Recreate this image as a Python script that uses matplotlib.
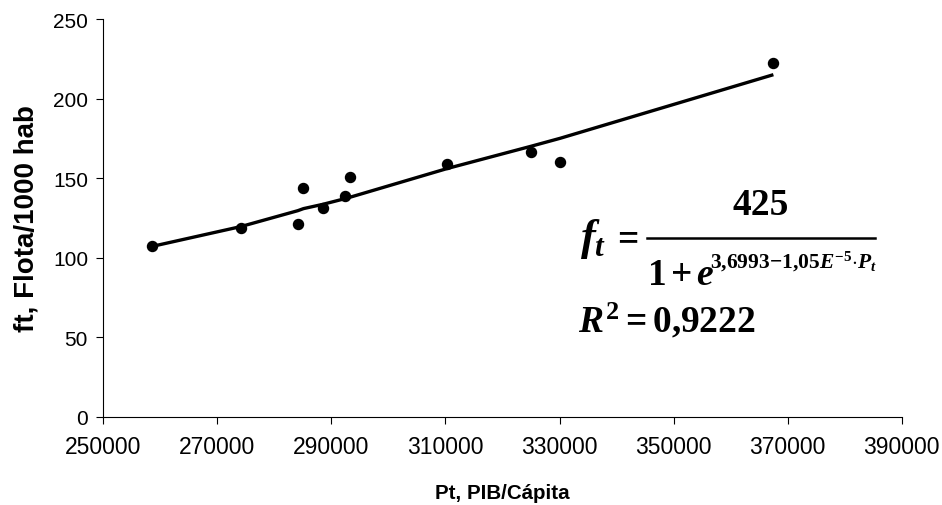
import matplotlib
matplotlib.use("Agg")
import matplotlib.pyplot as plt
from matplotlib.lines import Line2D

plt.rcParams['font.family'] = ['Liberation Sans', 'DejaVu Sans']
plt.rcParams['mathtext.fontset'] = 'custom'
plt.rcParams['mathtext.rm'] = 'Liberation Serif:bold'
plt.rcParams['mathtext.it'] = 'Liberation Serif:bold:italic'
plt.rcParams['mathtext.bf'] = 'Liberation Serif:bold'

# observed data
pib = [258500, 274100, 284100, 285100, 288500, 292300, 293300, 310300, 325000, 330100, 367500]
flota = [107.1, 118.4, 121.3, 143.9, 131.0, 138.5, 150.8, 159.0, 166.6, 160.1, 222.1]

# fitted curve
fit_pib = [258500, 274100, 284100, 285100, 288500, 292300, 293300, 310300, 325000, 330100, 367500]
fit_flota = [107.0, 119.5, 129.5, 130.8, 133.5, 137.0, 138.0, 156.0, 170.0, 175.0, 215.0]

x_ticks = [250000, 270000, 290000, 310000, 330000, 350000, 370000, 390000]
y_ticks = [0, 50, 100, 150, 200, 250]

W, H = 942, 506
fig = plt.figure(figsize=(W / 100, H / 100), dpi=100)
ax = fig.add_axes([103.3 / W, 1 - 417.7 / H, (901.7 - 103.3) / W, (417.7 - 20) / H])

ax.plot(fit_pib, fit_flota, color='black', lw=2.4, solid_capstyle='butt', zorder=2)
ax.scatter(pib, flota, s=52, color='black', zorder=3)

ax.set_xlim(250000, 390000)
ax.set_ylim(0, 250)
ax.set_xticks(x_ticks)
ax.set_yticks(y_ticks)
ax.tick_params(direction='out', length=5, width=0.8, pad=6)
ax.tick_params(axis='x', labelsize=16.5, pad=8)
ax.tick_params(axis='y', labelsize=15)
for s in ['top', 'right']:
    ax.spines[s].set_visible(False)
for s in ['left', 'bottom']:
    ax.spines[s].set_linewidth(0.8)

ax.set_xlabel('Pt, PIB/Cápita', fontsize=14.8, fontweight='bold', labelpad=18)
ax.set_ylabel('ft, Flota/1000 hab', fontsize=20, fontweight='bold', labelpad=10)

# equation, built from pieces so every part keeps its own size
eq_size = 27
def px(x, y):
    return x / W, 1 - y / H

fig.text(*px(580, 250), r'$f_t$', fontsize=32, ha='left', va='baseline')
fig.text(*px(612, 248), r'$=$', fontsize=eq_size, ha='left', va='baseline')
fig.text(*px(761, 215), '425', fontsize=eq_size, family='Liberation Serif',
         fontweight='bold', ha='center', va='baseline')
fig.add_artist(Line2D([647 / W, 875 / W], [1 - 239 / H, 1 - 239 / H],
                      color='black', lw=1.8, transform=fig.transFigure))
fig.text(*px(647, 285), r'$1\,{+}\,e$', fontsize=eq_size, ha='left', va='baseline')
fig.text(*px(710, 268), r'$3{,}6993{-}1{,}05E^{-5}{\cdot}P_t$', fontsize=15.5,
         ha='left', va='baseline')
fig.text(*px(578, 332), r'$R^2=0{,}9222$', fontsize=eq_size, ha='left', va='baseline')

fig.savefig('out.png', dpi=100)
